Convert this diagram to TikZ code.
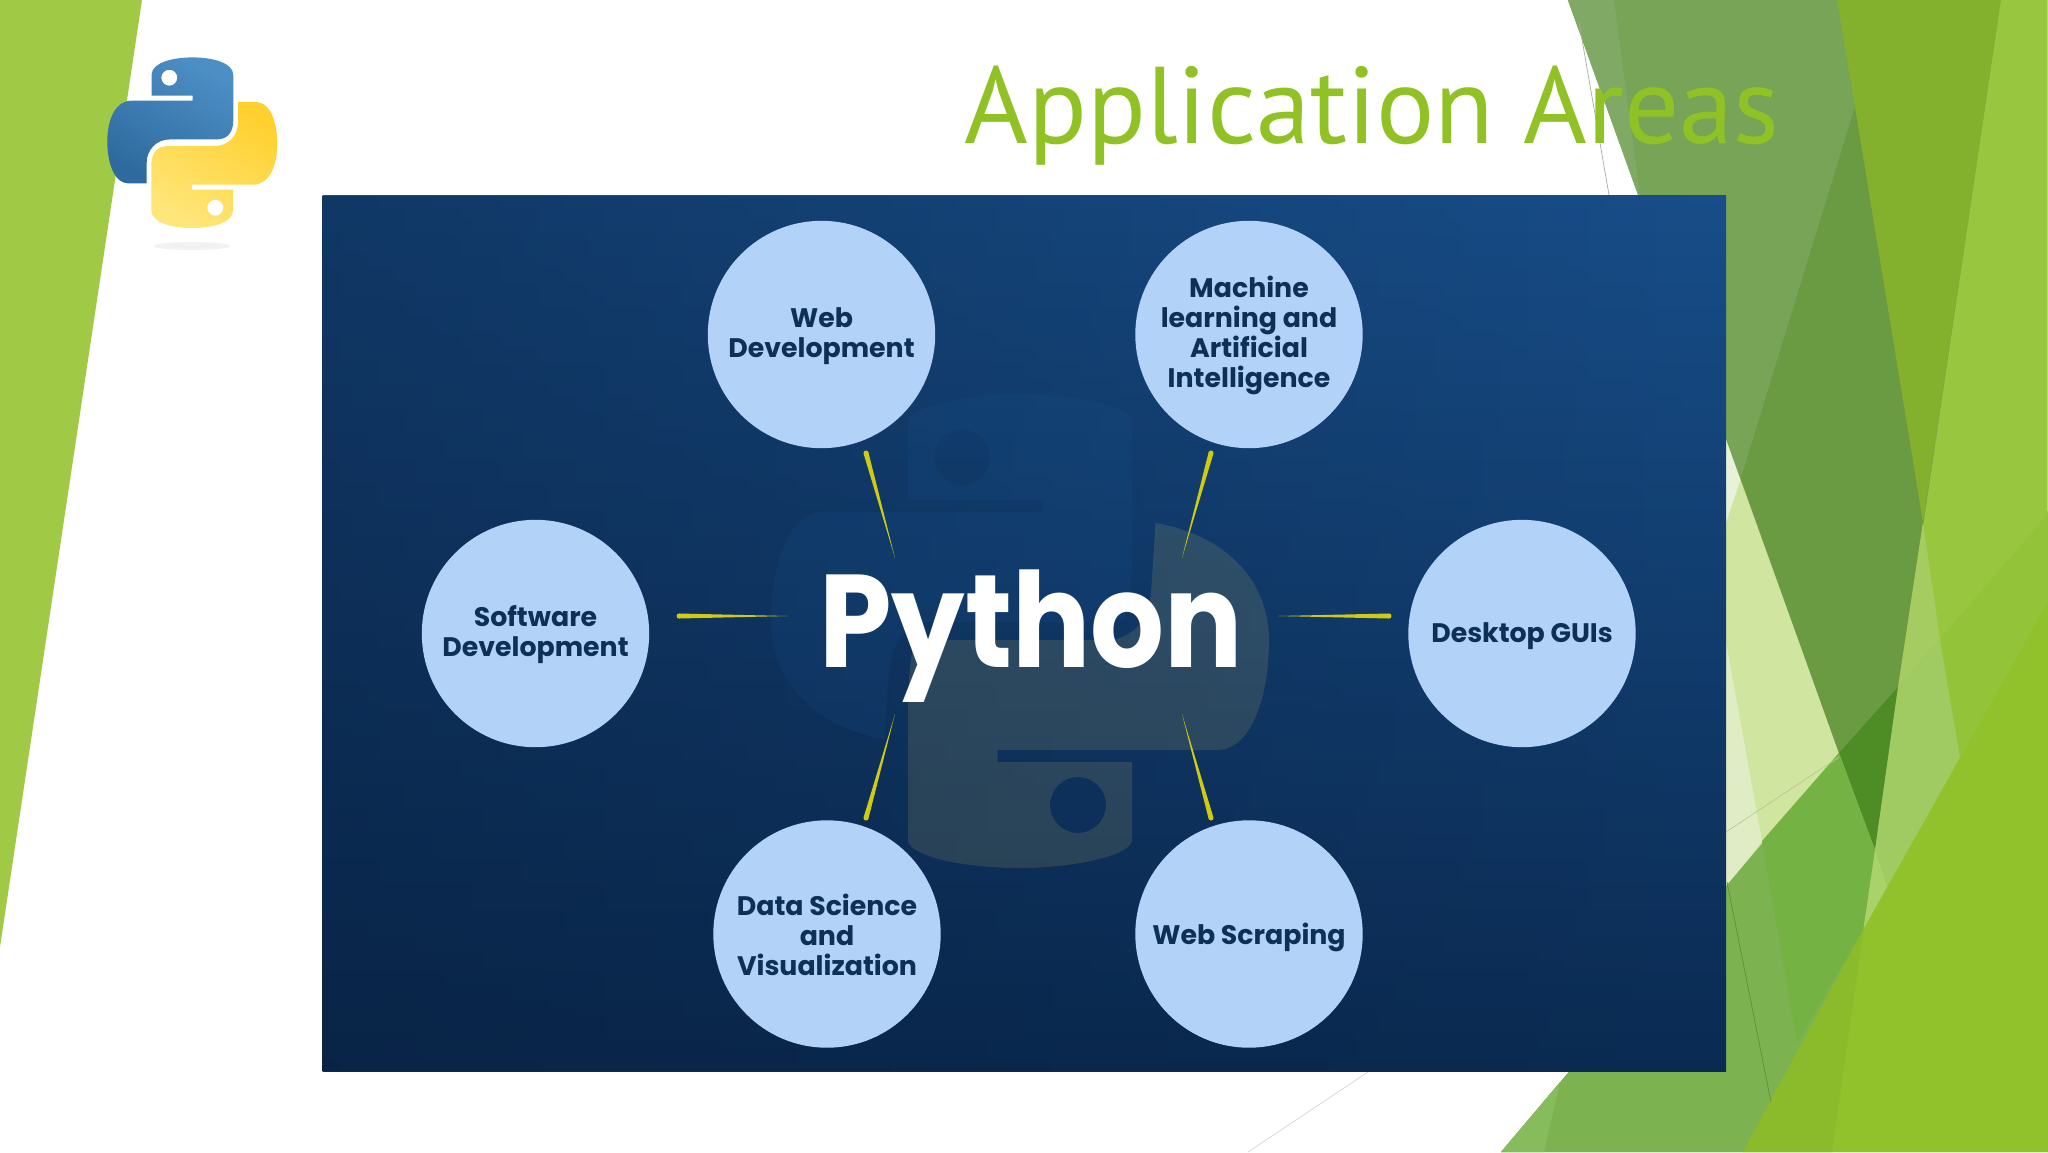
\documentclass[tikz,border=0pt]{standalone}
\usepackage{fontspec}
\setmainfont{Poppins}
\newfontfamily\titlefont{PT Sans}
\usetikzlibrary{calc,fadings}
\definecolor{navy}{HTML}{0E2F56}
\definecolor{circ}{HTML}{B2D2F7}
\definecolor{ray}{HTML}{CFCB10}
\definecolor{titlegreen}{HTML}{90C226}
\definecolor{bluea}{HTML}{4C8FC5}
\definecolor{blueb}{HTML}{2E6A9E}
\definecolor{yela}{HTML}{FFE67A}
\definecolor{yelb}{HTML}{FFD02E}
\definecolor{panela}{HTML}{184E89}
\definecolor{panelb}{HTML}{123F70}
\definecolor{panelc}{HTML}{0B2B52}
\definecolor{paneldark}{HTML}{061A36}
\tikzset{
  topic/.style={circle,fill=circ,minimum size=113.7pt,inner sep=0pt},
  topictext/.style={align=center,inner sep=0pt,text=navy,
    font=\fontsize{13.4}{15}\selectfont\bfseries},
  sliver/.style={fill=ray},
  thinline/.style={line width=0.35pt},
  hexfill/.code={\definecolor{tmpc}{HTML}{#1}\pgfkeysalso{/tikz/fill=tmpc}},
  hexdraw/.code={\definecolor{tmpc}{HTML}{#1}\pgfkeysalso{/tikz/draw=tmpc}},
}
% circle with its words set a little below the centre: name, position, words, drop
\newcommand{\topicnode}[4]{\node[topic,label={[topictext,yshift=-#4pt]center:#3}] (#1) at (#2) {};}
% rays: thick rounded end at #1, vanishing at #2
\newcommand{\ray}[2]{\fill[sliver] ($(#1)!1.25pt!90:(#2)$) -- ($(#1)!1.25pt!-90:(#2)$) -- (#2) -- cycle;
  \fill[sliver] (#1) circle[radius=2.5];}
\newcommand{\snakelogo}{(-40.7,-47) -- (-40.7,-67.7) .. controls (-40.7,-80) and (-20,-85.3) .. (0.3,-85.3)
  .. controls (20,-85.3) and (41,-80) .. (41,-67.7) -- (41,-22.7) .. controls (41,-10) and (35,-3.3) .. (24.3,-3.3)
  -- (-22.3,-3.3) .. controls (-36,-3.3) and (-45.7,7) .. (-45.7,20.7) -- (-45.7,40.7) -- (-64,40.7)
  .. controls (-78,40.7) and (-85,20) .. (-85,-1) .. controls (-85,-25) and (-76,-42) .. (-60.7,-42)
  -- (0.3,-42) -- (0.3,-47) -- cycle}
\newcommand{\bigsnake}{(1155.5,523) .. controls (1225,535) and (1269,580) .. (1269,640)
  .. controls (1269,700) and (1250,750) .. (1217,750) -- (997.5,750) -- (997.5,762) -- (1132,762) -- (1132,840)
  .. controls (1132,855) and (1075,868) .. (1019,868) .. controls (960,868) and (908,855) .. (908,840)
  -- (908,713) .. controls (908,670) and (912,650) .. (915,643) .. controls (930,640) and (960,640) .. (981,640)
  -- (1113,640) .. controls (1135,635) and (1148,620) .. (1151,593) -- cycle}
\begin{document}
\begin{tikzpicture}[x=0.5pt,y=-0.5pt]
\useasboundingbox (0,0) rectangle (2048,1152);
\fill[white] (0,0) rectangle (2048,1152);
% left band
\fill[hexfill=A0C946] (0,0) -- (142,0) -- (0,947) -- cycle;
% right facets
\fill[hexfill=CFE5A0] (1700,300) -- (1839,753) -- (1700,920) -- cycle;
\fill[hexfill=E9F2D9] (1700,300) -- (1741,478) -- (1700,600) -- cycle;
\fill[hexfill=E0ECC4] (1727,647) -- (1762,841) -- (1720,895) -- (1700,920) -- (1700,600) -- cycle;
\fill[hexfill=7CA04C] (1568,0) -- (2048,0) -- (2048,1152) -- (1501,1152) -- (1839,753) -- cycle;
\fill[hexfill=77A457] (1568,0) -- (1837,0) -- (1855,107) -- (1741,478) -- cycle;
\fill[hexfill=7FA964] (1568,0) -- (1614,0) -- (1640,195) -- (1638,195) -- cycle;
\fill[hexfill=6A9A42] (1855,107) -- (1923,522) -- (1898,687) -- (1839,753) -- (1741,478) -- cycle;
\fill[hexfill=83B12E] (1837,0) -- (2001,0) -- (1923,522) -- (1855,107) -- cycle;
\fill[hexfill=4E8C26] (1839,753) -- (1898,687) -- (1875,850) -- cycle;
\fill[hexfill=7CB24F] (1501,1152) -- (1839,753) -- (1875,850) -- (1863.5,929) -- (1743,1152) -- cycle;
\fill[hexfill=74B343] (1762,841) -- (1839,753) -- (1875,850) -- (1863.5,929) -- (1797,1043) -- cycle;
\fill[hexfill=87BC5C] (1501,1152) -- (1544,1152) -- (1560,1082) -- cycle;
\fill[hexfill=98C63E] (2001,0) -- (2048,0) -- (2048,700) -- (1863.5,929) -- cycle;
\fill[hexfill=B8DB7A] (2046.5,0) rectangle (2048,511);
\fill[hexfill=A5CC60] (1923,522) -- (1940,639) -- (1898,687) -- cycle;
\fill[hexfill=A0CA62] (1898,687) -- (1940,639) -- (1960,757) -- (1888,889) -- (1875,850) -- cycle;
\fill[hexfill=A9D26B] (1875,850) -- (1888,889) -- (1863.5,929) -- cycle;
\fill[hexfill=93C338] (1940,639) -- (2048,514) -- (2048,602) -- (1960,757) -- cycle;
\fill[hexfill=91C22B] (1743,1152) -- (1863.5,929) -- (2048,602) -- (2048,1152) -- cycle;
\fill[hexfill=8BBA2B] (1743,1152) -- (1863.5,929) -- (1832,1152) -- cycle;
% hair lines
\coordinate (ha) at (1579,22); \coordinate (hb) at (1609,195);
\coordinate (hc) at (1726,832); \coordinate (hd) at (1839,757);
\coordinate (he) at (1727,882); \coordinate (hf) at (1771,1102);
\coordinate (hg) at (1368,1072); \coordinate (hh) at (1248,1152);
\draw[thinline,hexdraw=A9A9A9] (ha) -- (hb);
\draw[thinline,hexdraw=B7CC95] (hc) -- (hd);
\draw[thinline,hexdraw=5F9040] (he) -- (hf);
\draw[thinline,hexdraw=D5D5D5] (hg) -- (hh);
% title
\node[anchor=base west,inner sep=0pt,text=titlegreen] (title) at (964,143)
  {\titlefont\fontsize{54.5}{60}\selectfont Application Areas};
% python logo
\fill[gray!22,opacity=.45] (192,246) ellipse[x radius=38,y radius=4];
\begin{scope}[shift={(192.3,142.7)}]
  \shade[even odd rule,left color=bluea,right color=blueb,shading angle=-30]
    \snakelogo (-23,-65) circle[radius=8];
  \begin{scope}[rotate=180]
  \shade[even odd rule,left color=yelb,right color=yela,shading angle=-30]
    \snakelogo (-23,-65) circle[radius=8];
  \end{scope}
\end{scope}
% picture panel
\shade[top color=panela,middle color=panelb,bottom color=panelc]
  (322.5,195.5) rectangle (1726,1071);
\fill[paneldark,path fading=east,opacity=.42] (322.5,195.5) rectangle (1726,1071);
% watermark
\begin{scope}[rotate around={180:(1020,631)}]
\fill[even odd rule,hexfill=1E5C9E,opacity=.13] \bigsnake (1078,805) circle[radius=28];
\end{scope}
\fill[even odd rule,hexfill=FFE066,opacity=.12] \bigsnake (1078,805) circle[radius=28];
% centre word
\node[anchor=base,inner sep=0pt,text=white,font=\fontsize{66}{70}\selectfont\bfseries] (py) at (1031,667) {\scalebox{.88}[1]{Python}};
% topic circles
\topicnode{web}{821.5,334.5}{Web\\Development}{1}
\topicnode{ml}{1249,334.5}{Machine\\learning and\\Artificial\\Intelligence}{.7}
\topicnode{gui}{1522,633.5}{Desktop GUIs}{1.5}
\topicnode{sw}{535.5,633.5}{Software\\Development}{.7}
\topicnode{ds}{827,934}{Data Science\\and\\Visualization}{.4}
\topicnode{scr}{1249,934}{Web Scraping}{1.6}
% rays
\coordinate (r1a) at (866,453); \coordinate (r1b) at (895,558);
\coordinate (r2a) at (1211,453); \coordinate (r2b) at (1182,558);
\coordinate (r3a) at (679,616); \coordinate (r3b) at (788,616);
\coordinate (r4a) at (1389,616); \coordinate (r4b) at (1278,616);
\coordinate (r5a) at (866,818); \coordinate (r5b) at (895,714);
\coordinate (r6a) at (1211,818); \coordinate (r6b) at (1182,714);
\ray{r1a}{r1b}\ray{r2a}{r2b}\ray{r3a}{r3b}\ray{r4a}{r4b}\ray{r5a}{r5b}\ray{r6a}{r6b}
\end{tikzpicture}
\end{document}
